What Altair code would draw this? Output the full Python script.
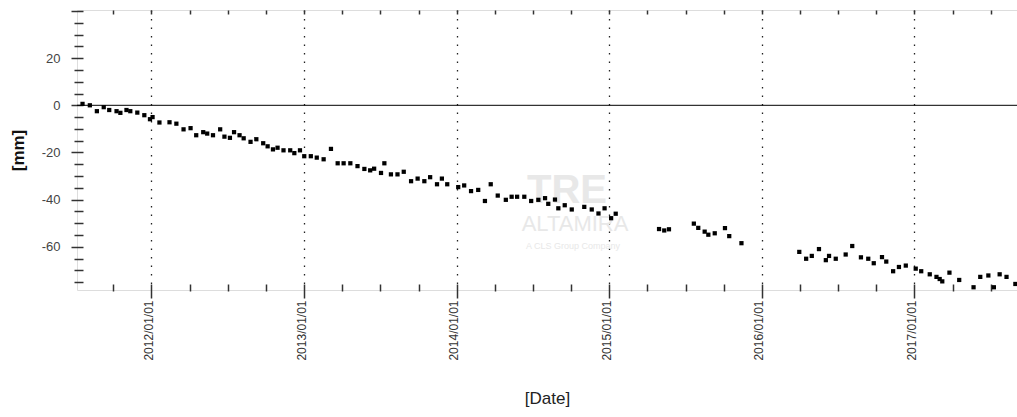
import altair as alt
import pandas as pd

# decimal year of each acquisition
t_year = [
    2011.548, 2011.596, 2011.642, 2011.687, 2011.723, 2011.771, 2011.796, 2011.836, 2011.861, 2011.907,
    2011.953, 2011.990, 2012.007, 2012.052, 2012.118, 2012.163, 2012.210, 2012.256, 2012.293, 2012.339,
    2012.365, 2012.403, 2012.450, 2012.478, 2012.514, 2012.541, 2012.577, 2012.604, 2012.649, 2012.687,
    2012.732, 2012.761, 2012.796, 2012.826, 2012.865, 2012.909, 2012.936, 2012.973, 2013.001, 2013.044,
    2013.083, 2013.128, 2013.176, 2013.220, 2013.259, 2013.303, 2013.350, 2013.395, 2013.433, 2013.459,
    2013.504, 2013.526, 2013.569, 2013.612, 2013.653, 2013.701, 2013.744, 2013.788, 2013.826, 2013.871,
    2013.903, 2013.938, 2014.010, 2014.049, 2014.094, 2014.141, 2014.185, 2014.223, 2014.269, 2014.322,
    2014.360, 2014.396, 2014.443, 2014.488, 2014.535, 2014.579, 2014.600, 2014.644, 2014.666, 2014.708,
    2014.754, 2014.836, 2014.885, 2014.929, 2014.969, 2015.012, 2015.042, 2015.326, 2015.360, 2015.391,
    2015.554, 2015.583, 2015.625, 2015.649, 2015.691, 2015.758, 2015.786, 2015.866, 2016.245, 2016.290,
    2016.327, 2016.374, 2016.419, 2016.440, 2016.484, 2016.549, 2016.592, 2016.649, 2016.697, 2016.733,
    2016.787, 2016.815, 2016.860, 2016.898, 2016.943, 2017.008, 2017.044, 2017.100, 2017.144, 2017.165,
    2017.182, 2017.229, 2017.293, 2017.387, 2017.431, 2017.484, 2017.520, 2017.558, 2017.603, 2017.661,
]

# displacement [mm]
disp_mm = [
    0.6, 0.0, -2.5, -0.8, -2.0, -2.5, -3.2, -2.0, -2.5, -3.1,
    -4.2, -5.9, -5.0, -7.3, -7.2, -7.8, -10.2, -9.7, -12.7, -11.4,
    -12.0, -12.7, -10.2, -13.3, -13.8, -11.4, -12.7, -14.0, -15.5, -14.4,
    -16.1, -17.4, -18.7, -18.0, -19.1, -19.1, -20.3, -19.1, -21.6, -21.6,
    -22.2, -22.9, -18.5, -24.6, -24.6, -24.6, -25.8, -27.0, -27.6, -26.9,
    -28.7, -24.6, -29.3, -29.3, -28.2, -32.2, -31.1, -32.2, -30.5, -33.5,
    -31.1, -33.5, -34.7, -34.0, -36.4, -35.9, -40.6, -33.5, -38.3, -40.1,
    -38.8, -38.8, -38.8, -40.6, -40.1, -39.4, -41.8, -40.0, -43.7, -42.4,
    -44.2, -43.1, -44.2, -45.9, -43.7, -47.9, -46.0, -52.5, -53.1, -52.6,
    -50.2, -52.0, -53.6, -54.9, -54.3, -52.1, -55.5, -58.5, -62.2, -65.1,
    -63.9, -61.0, -65.7, -63.9, -65.1, -63.3, -59.7, -64.5, -65.1, -67.0,
    -64.4, -66.3, -70.4, -68.6, -68.0, -69.3, -70.4, -71.7, -72.8, -73.7,
    -74.7, -71.0, -74.1, -77.2, -72.8, -72.2, -77.2, -71.7, -72.8, -75.8,
]

quarter_ticks = [2011.75 + 0.25 * i for i in range(24)]
y_ticks = list(range(-75, 41, 5))
x_title = "[Date]"
y_title = "[mm]"
wm_big = "TRE"
wm_mid = "ALTAMIRA"
wm_small = "A CLS Group Company"

df = pd.DataFrame({"t": t_year, "mm": disp_mm})

xscale = alt.Scale(domain=[2011.5118, 2017.6717], nice=False, zero=False)
yscale = alt.Scale(domain=[-78.36, 40.43], nice=False, zero=False)

major_x = "datum.value % 1 == 0"
major_y = "datum.value % 20 == 0"

x_axis = alt.Axis(
    orient="bottom",
    values=quarter_ticks,
    labelExpr="datum.value % 1 == 0 ? datum.value + '/01/01' : ''",
    labelAngle=270, labelFont="Liberation Sans", labelFontSize=12, labelColor="#333",
    labelPadding=2, labelOverlap=False, labelFlush=False, labelOffset=-3,
    domain=False, offset=-6,
    tickColor="#333", tickWidth=1.5,
    tickSize={"condition": {"test": major_x, "value": 14}, "value": 7},
    grid=True, gridColor="#222", gridDash=[1.5, 7], gridWidth=1.3,
    gridOpacity={"condition": {"test": major_x, "value": 1}, "value": 0},
    title=x_title, titleFont="Liberation Sans", titleFontSize=17,
    titleFontWeight="normal", titleColor="#222", titlePadding=30,
)

x_top_axis = alt.Axis(
    orient="top", values=quarter_ticks, labels=False, domain=False, grid=False,
    offset=-4, tickSize=4, tickColor="#333", tickWidth=1.5, title=None,
)

y_axis = alt.Axis(
    values=y_ticks,
    labelExpr="(datum.value % 20 == 0 && datum.value < 40) ? datum.value : ''",
    labelFont="Liberation Sans", labelFontSize=13, labelColor="#444",
    labelPadding=11, labelOverlap=False, labelFlush=False,
    domain=False, offset=-6,
    tickColor="#333", tickWidth=1.5,
    tickSize={"condition": {"test": major_y, "value": 12}, "value": 9},
    grid=False,
    title=y_title, titleFont="Liberation Sans", titleFontSize=17,
    titleFontWeight="bold", titleColor="#111", titlePadding=14,
)

wm1 = alt.Chart(pd.DataFrame({"txt": [wm_big]})).mark_text(
    color="#e8e8e8", font="Liberation Sans", fontWeight="bold", fontSize=40
).encode(text="txt:N", x=alt.value(490), y=alt.value(181))
wm2 = alt.Chart(pd.DataFrame({"txt": [wm_mid]})).mark_text(
    color="#e8e8e8", font="Liberation Sans", fontSize=22
).encode(text="txt:N", x=alt.value(498), y=alt.value(214))
wm3 = alt.Chart(pd.DataFrame({"txt": [wm_small]})).mark_text(
    color="#e8e8e8", font="Liberation Sans", fontSize=9
).encode(text="txt:N", x=alt.value(496), y=alt.value(236))

zero = alt.Chart(pd.DataFrame({"z": [0]})).mark_rule(color="black", strokeWidth=1).encode(
    y=alt.Y("z:Q", scale=yscale, axis=y_axis)
)

pts = alt.Chart(df).mark_square(size=18, color="black", opacity=1, clip=True).encode(
    x=alt.X("t:Q", scale=xscale, axis=x_axis),
    y=alt.Y("mm:Q", scale=yscale, axis=y_axis),
)

top_ticks = alt.Chart(df).mark_square(size=18, opacity=0).encode(
    x=alt.X("t:Q", scale=xscale, axis=x_top_axis),
)

chart = alt.layer(wm1, wm2, wm3, zero, pts, top_ticks).resolve_axis(x="independent").properties(
    width=940, height=280,
    padding={"left": 77, "top": 10, "right": 0, "bottom": 127},
    autosize="none",
).configure_view(stroke="#333", strokeWidth=1.5).configure(background="white")

chart.save("out.html", embed_options={"renderer": "svg", "actions": False})
